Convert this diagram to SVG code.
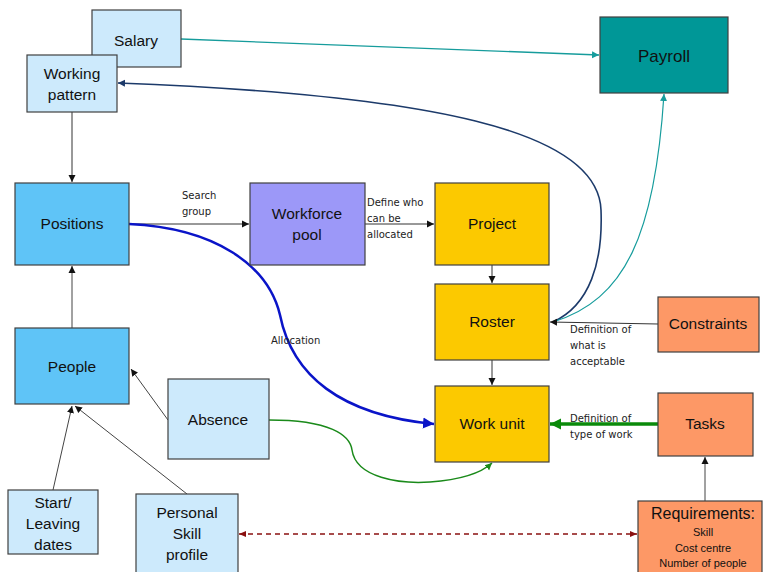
<svg xmlns="http://www.w3.org/2000/svg" width="763" height="572" viewBox="0 0 763 572">
<defs>
<style>
.box{stroke:#404040;stroke-width:1.2}
.lb{fill:#cdeafc}.db{fill:#5fc4f7}.pu{fill:#9c98f8}.ye{fill:#fcc900}.or{fill:#fd9866}.te{fill:#009797}
.t{font-family:"Liberation Sans",Arial,sans-serif;font-size:15.5px;fill:#111;text-anchor:middle}
.s{font-family:"DejaVu Sans",Verdana,sans-serif;font-size:10px;fill:#222}
.c{fill:none}
</style>
<marker id="ak" markerWidth="8" markerHeight="8" refX="7" refY="4" orient="auto" markerUnits="userSpaceOnUse"><path d="M0,0.5 L7,4 L0,7.5z" fill="#111"/></marker>
<marker id="at" markerWidth="8" markerHeight="8" refX="7" refY="4" orient="auto" markerUnits="userSpaceOnUse"><path d="M0,0.5 L7,4 L0,7.5z" fill="#169c9c"/></marker>
<marker id="an" markerWidth="8" markerHeight="8" refX="7" refY="4" orient="auto" markerUnits="userSpaceOnUse"><path d="M0,0.5 L7,4 L0,7.5z" fill="#1c3a6a"/></marker>
<marker id="ab" markerWidth="12" markerHeight="12" refX="11" refY="6" orient="auto" markerUnits="userSpaceOnUse"><path d="M0,0.5 L11,6 L0,11.5z" fill="#0a14c8"/></marker>
<marker id="ag" markerWidth="12" markerHeight="12" refX="11" refY="6" orient="auto" markerUnits="userSpaceOnUse"><path d="M0,0.5 L11,6 L0,11.5z" fill="#0a8a0a"/></marker>
<marker id="ag2" markerWidth="8" markerHeight="8" refX="7" refY="4" orient="auto" markerUnits="userSpaceOnUse"><path d="M0,0.5 L7,4 L0,7.5z" fill="#1a8a1a"/></marker>
<marker id="ar" markerWidth="8" markerHeight="8" refX="7" refY="4" orient="auto-start-reverse" markerUnits="userSpaceOnUse"><path d="M0,1 L7,4 L0,7z" fill="#8a1010"/></marker>
</defs>
<rect width="763" height="572" fill="#fff"/>

<g id="connectors">
<path class="c" d="M181,39 L599,55" stroke="#169c9c" stroke-width="1.3" marker-end="url(#at)"/>
<path class="c" d="M553,322 C590,305 603,262 601,210 C598,130 430,95 118,83" stroke="#1c3a6a" stroke-width="1.6" marker-end="url(#an)"/>
<path class="c" d="M553,322 C625,300 655,235 664,94" stroke="#169c9c" stroke-width="1.2" marker-end="url(#at)"/>
<path class="c" d="M72,112 L72,182" stroke="#333" stroke-width="1" marker-end="url(#ak)"/>
<path class="c" d="M129,224 L249,224" stroke="#333" stroke-width="1" marker-end="url(#ak)"/>
<path class="c" d="M365,224 L434,224" stroke="#333" stroke-width="1" marker-end="url(#ak)"/>
<path class="c" d="M492,265 L492,283" stroke="#333" stroke-width="1" marker-end="url(#ak)"/>
<path class="c" d="M492,360 L492,385" stroke="#333" stroke-width="1" marker-end="url(#ak)"/>
<path class="c" d="M658,324 L550,322" stroke="#333" stroke-width="1" marker-end="url(#ak)"/>
<path class="c" d="M658,424 L550,424" stroke="#0a8a0a" stroke-width="3.5" marker-end="url(#ag)"/>
<path class="c" d="M705,501 L705,457" stroke="#444" stroke-width="1" marker-end="url(#ak)"/>
<path class="c" d="M72,328 L72,266" stroke="#444" stroke-width="1" marker-end="url(#ak)"/>
<path class="c" d="M168,420 L131,369" stroke="#444" stroke-width="1" marker-end="url(#ak)"/>
<path class="c" d="M53,490 L72,406" stroke="#444" stroke-width="1" marker-end="url(#ak)"/>
<path class="c" d="M187,494 L75,406" stroke="#444" stroke-width="1" marker-end="url(#ak)"/>
<path class="c" d="M129,224 C215,228 268,265 280,315 C292,375 340,415 434,424" stroke="#0a14c8" stroke-width="2.5" marker-end="url(#ab)"/>
<path class="c" d="M269,420 C330,420 350,435 352,450 C356,478 400,484 430,482 C458,480 480,474 492,463" stroke="#1a8a1a" stroke-width="1.5" marker-end="url(#ag2)"/>
<path class="c" d="M239,534 L637,534" stroke="#8a1010" stroke-width="1.5" stroke-dasharray="5,4" marker-start="url(#ar)" marker-end="url(#ar)"/>
<text class="s" x="182" y="199">Search</text>
<text class="s" x="182" y="215">group</text>
<text class="s" x="367" y="206">Define who</text>
<text class="s" x="367" y="222">can be</text>
<text class="s" x="367" y="238">allocated</text>
<text class="s" x="271" y="344">Allocation</text>
<text class="s" x="570" y="333">Definition of</text>
<text class="s" x="570" y="349">what is</text>
<text class="s" x="570" y="365">acceptable</text>
<text class="s" x="570" y="422">Definition of</text>
<text class="s" x="570" y="438">type of work</text>
</g>

<g id="salary"><rect class="box lb" x="92" y="10" width="89" height="57"/><text class="t" x="136" y="46">Salary</text></g>
<g id="working-pattern"><rect class="box lb" x="27" y="55" width="90" height="57"/><text class="t" x="72" y="79">Working</text><text class="t" x="72" y="100">pattern</text></g>
<g id="payroll"><rect class="box te" x="600" y="17" width="128" height="76"/><text class="t" x="664" y="62" style="font-size:17px">Payroll</text></g>
<g id="positions"><rect class="box db" x="15" y="183" width="114" height="82"/><text class="t" x="72" y="229">Positions</text></g>
<g id="workforce-pool"><rect class="box pu" x="250" y="183" width="115" height="82"/><text class="t" x="307" y="219">Workforce</text><text class="t" x="307" y="240">pool</text></g>
<g id="project"><rect class="box ye" x="435" y="183" width="114" height="82"/><text class="t" x="492" y="229">Project</text></g>
<g id="roster"><rect class="box ye" x="435" y="284" width="114" height="76"/><text class="t" x="492" y="327">Roster</text></g>
<g id="constraints"><rect class="box or" x="658" y="297" width="101" height="55"/><text class="t" x="708" y="329">Constraints</text></g>
<g id="people"><rect class="box db" x="15" y="328" width="114" height="76"/><text class="t" x="72" y="372">People</text></g>
<g id="absence"><rect class="box lb" x="168" y="379" width="101" height="80"/><text class="t" x="218" y="425">Absence</text></g>
<g id="work-unit"><rect class="box ye" x="435" y="386" width="114" height="76"/><text class="t" x="492" y="429">Work unit</text></g>
<g id="tasks"><rect class="box or" x="658" y="393" width="95" height="63"/><text class="t" x="705" y="429">Tasks</text></g>
<g id="start-leaving"><rect class="box lb" x="8" y="490" width="90" height="64"/><text class="t" x="53" y="508">Start/</text><text class="t" x="53" y="529">Leaving</text><text class="t" x="53" y="550">dates</text></g>
<g id="personal-skill"><rect class="box lb" x="136" y="494" width="102" height="80"/><text class="t" x="187" y="518">Personal</text><text class="t" x="187" y="539">Skill</text><text class="t" x="187" y="560">profile</text></g>
<g id="requirements"><rect class="box or" x="638" y="501" width="124" height="73"/><text class="t" x="703" y="519" style="font-size:16px">Requirements:</text><text class="t" x="703" y="536" style="font-size:11px">Skill</text><text class="t" x="703" y="552" style="font-size:11px">Cost centre</text><text class="t" x="703" y="567" style="font-size:11px">Number of people</text></g>
</svg>
